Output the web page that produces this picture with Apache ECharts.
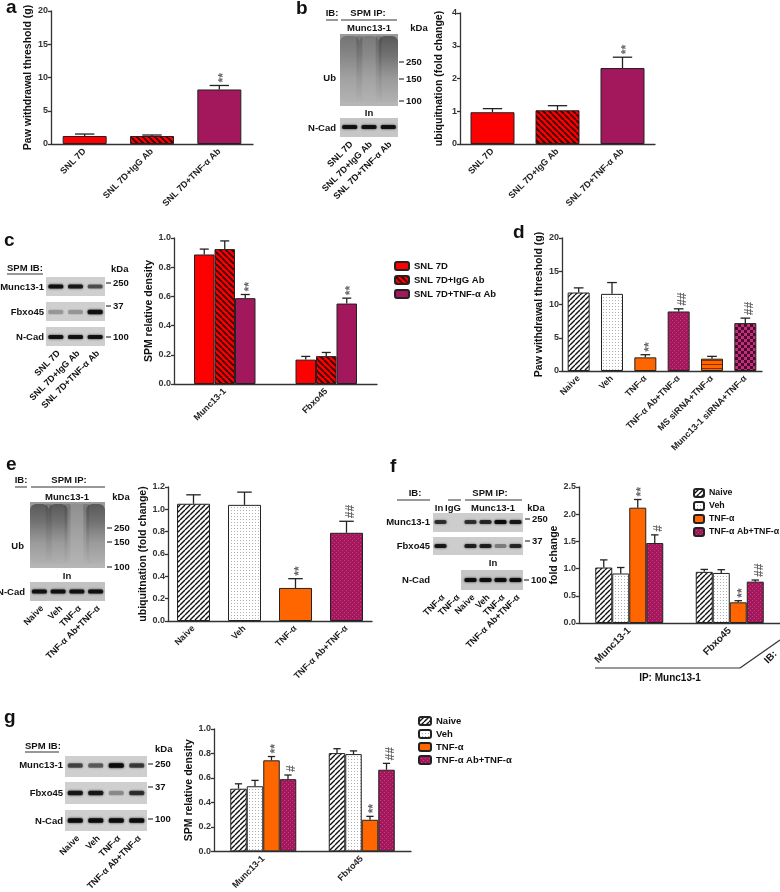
<!DOCTYPE html>
<html><head><meta charset="utf-8">
<script src="https://cdn.jsdelivr.net/npm/echarts@6/dist/echarts.min.js"></script>
<style>html,body{margin:0;padding:0;background:#fff}#c{width:780px;height:892px}</style>
</head><body><div id="c"></div><script>
// ---------------- DATA ----------------
const aCats = ['SNL 7D', 'SNL 7D+IgG Ab', 'SNL 7D+TNF-α Ab'];
const aMean = [1.2, 1.2, 8.2];
const aErr = [0.3, 0.15, 0.6];
const aMarks = ['', '', '**'];

const bCats = ['SNL 7D', 'SNL 7D+IgG Ab', 'SNL 7D+TNF-α Ab'];
const bMean = [0.97, 1.03, 2.32];
const bErr = [0.11, 0.14, 0.33];
const bMarks = ['', '', '**'];

const cCats = ['Munc13-1', 'Fbxo45'];
const cNames = ['SNL 7D', 'SNL 7D+IgG Ab', 'SNL 7D+TNF-α Ab'];
const cSNL = [0.887, 0.167], cSNLErr = [0.037, 0.022];
const cIgG = [0.924, 0.191], cIgGErr = [0.056, 0.025];
const cTNFAb = [0.588, 0.551], cTNFAbErr = [0.025, 0.037];
const cMarks = [['', ''], ['', ''], ['**', '**']];

const dCats = ['Naive', 'Veh', 'TNF-α', 'TNF-α Ab+TNF-α', 'MS siRNA+TNF-α', 'Munc13-1 siRNA+TNF-α'];
const dMean = [11.8, 11.6, 2.05, 8.95, 1.85, 7.2];
const dErr = [0.7, 1.7, 0.4, 0.4, 0.35, 0.75];
const dMarks = ['', '', '**', '##', '', '##'];

const eCats = ['Naive', 'Veh', 'TNF-α', 'TNF-α Ab+TNF-α'];
const eMean = [1.05, 1.04, 0.296, 0.79];
const eErr = [0.08, 0.114, 0.083, 0.103];
const eMarks = ['', '', '**', '##'];

const fgNames = ['Naive', 'Veh', 'TNF-α', 'TNF-α Ab+TNF-α'];
const fCats = ['Munc13-1', 'Fbxo45'];
const fNaive = [1.02, 0.94], fNaiveErr = [0.14, 0.045];
const fVeh = [0.91, 0.92], fVehErr = [0.11, 0.06];
const fTNF = [2.12, 0.38], fTNFErr = [0.15, 0.03];
const fTNFAb = [1.47, 0.76], fTNFAbErr = [0.15, 0.03];
const fMarks = [['', ''], ['', ''], ['**', '**'], ['#', '##']];

const gCats = ['Munc13-1', 'Fbxo45'];
const gNaive = [0.512, 0.803], gNaiveErr = [0.04, 0.036];
const gVeh = [0.532, 0.795], gVehErr = [0.048, 0.026];
const gTNF = [0.744, 0.258], gTNFErr = [0.031, 0.028];
const gTNFAb = [0.59, 0.667], gTNFAbErr = [0.034, 0.052];
const gMarks = [['', ''], ['', ''], ['**', '**'], ['#', '##']];

// blot lane labels and band intensities
const lanesB = ['SNL 7D', 'SNL 7D+IgG Ab', 'SNL 7D+TNF-α Ab'];
const lanesC = ['SNL 7D', 'SNL 7D+IgG Ab', 'SNL 7D+TNF-α Ab'];
const lanesE = ['Naive', 'Veh', 'TNF-α', 'TNF-α Ab+TNF-α'];
const lanesF = ['TNF-α', 'TNF-α', 'Naive', 'Veh', 'TNF-α', 'TNF-α Ab+TNF-α'];
const lanesG = ['Naive', 'Veh', 'TNF-α', 'TNF-α Ab+TNF-α'];
const bUb = [0.32, 0.28, 0.55], bNCad = [0.9, 0.9, 0.9];
const cMunc = [0.9, 0.85, 0.55], cFbxo = [0.25, 0.25, 0.9], cNCad = [0.9, 0.9, 0.9];
const eUb = [0.55, 0.55, 0.1, 0.55], eNCad = [0.9, 0.9, 0.9, 0.9];
const fMunc = [0.7, 0, 0.7, 0.75, 0.95, 0.85], fFbxo = [0.85, 0, 0.8, 0.8, 0.35, 0.75], fNCad = [0.95, 0.95, 0.95, 0.95];
const gMunc = [0.6, 0.5, 1.0, 0.65], gFbxo = [0.85, 0.85, 0.3, 0.7], gNCad = [0.95, 0.95, 0.95, 0.95];

// ---------------- STYLES ----------------
const FF = '"Liberation Sans", Arial, sans-serif';
function pat(size, draw) {
  const cv = document.createElement('canvas'); cv.width = cv.height = size;
  const g = cv.getContext('2d'); draw(g, size); return { image: cv, repeat: 'repeat' };
}
function diag(g, s, dir, col, lw) {
  g.strokeStyle = col; g.lineWidth = lw; g.beginPath();
  for (let k = -1; k <= 1; k++) {
    if (dir > 0) { g.moveTo(k * s, s); g.lineTo(k * s + s, 0); }
    else { g.moveTo(k * s, 0); g.lineTo(k * s + s, s); }
  }
  g.stroke();
}
const RED = '#ff0000';
const MAG = '#a3175d';
const ORG = '#ff6600';
const redHatch = pat(6, (g, s) => { g.fillStyle = RED; g.fillRect(0, 0, s, s); diag(g, s, -1, '#4a0000', 2); });
const naiveHatch = pat(5, (g, s) => { g.fillStyle = '#fff'; g.fillRect(0, 0, s, s); diag(g, s, 1, '#111', 1.4); });
const vehDots = pat(3, (g, s) => { g.fillStyle = '#fff'; g.fillRect(0, 0, s, s); g.fillStyle = '#b0b0b0'; g.fillRect(0, 0, 1, 1); });
const magDots = pat(4, (g, s) => { g.fillStyle = MAG; g.fillRect(0, 0, s, s); g.fillStyle = '#c9407f'; g.fillRect(0, 0, 1, 1); g.fillRect(2, 2, 1, 1); });
const orgLines = pat(4, (g, s) => { g.fillStyle = ORG; g.fillRect(0, 0, s, s); g.fillStyle = '#8a3000'; g.fillRect(0, 0, s, 1); });
const magCheck = pat(6, (g, s) => { g.fillStyle = '#c0307a'; g.fillRect(0, 0, s, s); g.fillStyle = '#4c0a2e'; g.fillRect(0, 0, 3, 3); g.fillRect(3, 3, 3, 3); });

const snlStyles = [RED, redHatch, MAG];
const dStyles = [naiveHatch, vehDots, ORG, magDots, orgLines, magCheck];
const fgStyles = [naiveHatch, vehDots, ORG, magDots];
const BORDER = '#222';

// ---------------- HELPERS ----------------
const grids = [
  { left: 51, top: 11, width: 202, height: 133 },
  { left: 460, top: 13, width: 195, height: 131 },
  { left: 174, top: 238, width: 203, height: 146 },
  { left: 562, top: 238, width: 200, height: 133 },
  { left: 168, top: 487, width: 204, height: 134 },
  { left: 579, top: 487, width: 201, height: 136 },
  { left: 214, top: 729, width: 197, height: 140 }
];
function yAx(gi, max, interval, name, gap, dec) {
  return {
    type: 'value', gridIndex: gi, min: 0, max: max, interval: interval, name: name,
    nameLocation: 'middle', nameGap: gap,
    nameTextStyle: { fontFamily: FF, fontWeight: 'bold', fontSize: 10.5, color: '#111' },
    axisLine: { show: true, lineStyle: { color: '#333', width: 1.3 } },
    axisTick: { show: true, length: 3, lineStyle: { color: '#333', width: 1.3 } },
    splitLine: { show: false },
    axisLabel: { fontFamily: FF, fontWeight: 'bold', fontSize: 9, color: '#333', margin: 3, formatter: v => v.toFixed(dec) }
  };
}
function xAx(gi, cats, fs) {
  return {
    type: 'category', gridIndex: gi, data: cats,
    axisLine: { lineStyle: { color: '#333', width: 1.3 } }, axisTick: { show: false },
    axisLabel: { rotate: 45, interval: 0, fontFamily: FF, fontWeight: 'bold', fontSize: fs || 9, color: '#222', margin: 6 }
  };
}
function errSeries(gi, means, errs, marks, offset, bw) {
  return {
    type: 'custom', xAxisIndex: gi, yAxisIndex: gi, silent: true, z: 6,
    data: means.map((m, i) => [i, m, errs[i]]),
    renderItem: (params, api) => {
      const i = api.value(0), m = api.value(1), e = api.value(2);
      const mk = marks[params.dataIndex] || '';
      const p0 = api.coord([i, m]), p1 = api.coord([i, m + e]);
      const x = p0[0] + offset, cw = bw * 0.22;
      const ch = [
        { type: 'line', shape: { x1: x, y1: p0[1], x2: x, y2: p1[1] }, style: { stroke: '#222', lineWidth: 1.3 } },
        { type: 'line', shape: { x1: x - cw, y1: p1[1], x2: x + cw, y2: p1[1] }, style: { stroke: '#222', lineWidth: 1.3 } }
      ];
      if (mk) ch.push({ type: 'text', x: x + 4, y: p1[1] - 3, rotation: Math.PI / 2,
        style: { text: mk, fill: '#666', fontSize: 12, fontWeight: 'bold', fontFamily: FF, align: 'left', verticalAlign: 'middle' } });
      return { type: 'group', children: ch };
    }
  };
}
function singleBars(gi, means, styles, bw) {
  return { type: 'bar', xAxisIndex: gi, yAxisIndex: gi, barWidth: bw, z: 2,
    data: means.map((v, i) => ({ value: v, itemStyle: { color: styles[i], borderColor: BORDER, borderWidth: 1 } })) };
}
function groupBars(gi, names, valsList, errList, marksList, styles, bw) {
  const out = [], n = names.length;
  names.forEach((nm, k) => {
    out.push({ type: 'bar', name: nm, xAxisIndex: gi, yAxisIndex: gi, barWidth: bw, barGap: '0%', z: 2,
      itemStyle: { color: styles[k], borderColor: BORDER, borderWidth: 1 }, data: valsList[k] });
    out.push(errSeries(gi, valsList[k], errList[k], marksList[k], (k - (n - 1) / 2) * bw, bw));
  });
  return out;
}

// ---------------- GRAPHICS (labels, blots) ----------------
const G = [];
function T(x, y, text, o) {
  o = o || {};
  G.push({ type: 'text', x: x, y: y, rotation: o.r || 0, z: 100,
    style: { text: text, fill: o.c || '#111', fontSize: o.s || 9.5, fontWeight: o.w || 'bold', fontFamily: FF, align: o.a || 'left', verticalAlign: o.v || 'middle' } });
}
function L(x1, y1, x2, y2, w, c) { G.push({ type: 'line', z: 100, shape: { x1, y1, x2, y2 }, style: { stroke: c || '#333', lineWidth: w || 1 } }); }
function R(x, y, w, h, fill, extra) { G.push({ type: 'rect', z: (extra && extra.z) || 90, shape: { x, y, width: w, height: h, r: (extra && extra.r) || 0 }, style: Object.assign({ fill: fill }, (extra && extra.style) || {}) }); }
function bands(centers, cy, ints, bw, bh) {
  centers.forEach((cx, i) => {
    if (ints[i] <= 0) return;
    const col = 'rgba(10,10,10,' + ints[i] + ')';
    R(cx - bw / 2, cy - bh / 2, bw, bh, col, { r: 1.5, z: 92, style: { shadowBlur: 2.5, shadowColor: col } });
  });
}
function lanesOf(x, w, n) { const lw = w / n; return Array.from({ length: n }, (_, i) => x + lw * (i + 0.5)); }
function ubBlot(x, y, w, h, centers, ints) {
  R(x, y, w, h, { type: 'linear', x: 0, y: 0, x2: 0, y2: 1, colorStops: [
    { offset: 0, color: '#9a9a9a' }, { offset: 0.5, color: '#a8a8a8' }, { offset: 1, color: '#b6b6b6' }] });
  const lw = w / centers.length;
  centers.forEach((cx, i) => {
    const a = ints[i];
    G.push({ type: 'rect', z: 91, shape: { x: cx - lw * 0.5, y: y + 2, width: lw, height: h - 6, r: 6 },
      style: { fill: { type: 'linear', x: 0, y: 0, x2: 0, y2: 1, colorStops: [
        { offset: 0, color: 'rgba(35,35,35,' + a + ')' },
        { offset: 0.3, color: 'rgba(45,45,45,' + (a * 0.75) + ')' },
        { offset: 0.65, color: 'rgba(70,70,70,' + (a * 0.3) + ')' },
        { offset: 1, color: 'rgba(90,90,90,' + (a * 0.08) + ')' }] } },
      clipPath: undefined });
  });
  // soften lane separations
  centers.slice(1).forEach((cx, i) => {
    const sx = cx - lw / 2;
    R(sx - 3, y + 2, 6, h - 6, { type: 'linear', x: 0, y: 0, x2: 0, y2: 1, colorStops: [
      { offset: 0, color: 'rgba(60,60,60,0.35)' }, { offset: 1, color: 'rgba(120,120,120,0.05)' }] }, { z: 92 });
  });
}
function laneLabels(centers, bottom, labels, dx) {
  centers.forEach((cx, i) => T(cx + (dx || 2), bottom + 6, labels[i], { a: 'right', r: Math.PI / 4, s: 9 }));
}
function marker(x, y, t) { L(x, y, x + 5, y, 1.2); T(x + 7, y, t); }

// panel letters
T(6, 8, 'a', { s: 19 }); T(296, 9, 'b', { s: 19 }); T(4, 241, 'c', { s: 19 });
T(513, 233, 'd', { s: 19 }); T(6, 465, 'e', { s: 19 }); T(390, 467, 'f', { s: 19 }); T(4, 718, 'g', { s: 19 });

// panel b blot
T(332, 13, 'IB:', { a: 'center' }); L(326, 20, 338, 20, 1);
T(368, 13, 'SPM IP:', { a: 'center' }); L(341, 20, 397, 20, 1);
T(369, 28, 'Munc13-1', { a: 'center' }); T(419, 28, 'kDa', { a: 'center' });
const lB = lanesOf(340, 58, 3);
ubBlot(340, 34, 58, 72, lB, bUb);
T(336, 78, 'Ub', { a: 'right' });
marker(399, 62, '250'); marker(399, 79, '150'); marker(399, 101, '100');
T(369, 113, 'In', { a: 'center' });
R(340, 118, 58, 19, '#c6c6c6');
bands(lB, 127, bNCad, 15, 4);
T(336, 128, 'N-Cad', { a: 'right' });
laneLabels(lB, 137, lanesB, 0);

// panel c blot
T(7, 268, 'SPM IB:'); L(7, 274, 43, 274, 1);
T(111, 269, 'kDa');
const lC = lanesOf(46, 59, 3);
R(46, 277, 59, 19, '#cfcfcf'); bands(lC, 286.5, cMunc, 15, 4);
R(46, 302, 59, 19, '#cfcfcf'); bands(lC, 312, cFbxo, 15, 4.5);
R(46, 327, 59, 19, '#cfcfcf'); bands(lC, 337, cNCad, 15, 4);
T(44, 287, 'Munc13-1', { a: 'right' }); T(44, 312, 'Fbxo45', { a: 'right' }); T(44, 337, 'N-Cad', { a: 'right' });
marker(106, 283, '250'); marker(106, 306, '37'); marker(106, 337, '100');
laneLabels(lC, 346, lanesC, 3);

// panel e blot
T(21, 480, 'IB:', { a: 'center' }); L(15, 487, 27, 487, 1);
T(69, 480, 'SPM IP:', { a: 'center' }); L(31, 487, 105, 487, 1);
T(67, 497, 'Munc13-1', { a: 'center' }); T(121, 497, 'kDa', { a: 'center' });
const lE = lanesOf(30, 75, 4);
ubBlot(30, 502, 75, 66, lE, eUb);
T(24, 546, 'Ub', { a: 'right' });
marker(107, 528, '250'); marker(107, 542, '150'); marker(107, 567, '100');
T(67, 576, 'In', { a: 'center' });
R(30, 582, 75, 19, '#c2c2c2'); bands(lE, 591.5, eNCad, 15, 4);
T(25, 592, 'N-Cad', { a: 'right' });
laneLabels(lE, 601, lanesE, 3);

// panel f blot
T(415, 493, 'IB:', { a: 'center' }); L(397, 500, 430, 500, 1);
T(490, 493, 'SPM IP:', { a: 'center' }); L(465, 500, 522, 500, 1); L(448, 500, 461, 500, 1);
T(439, 508, 'In', { a: 'center' }); T(453, 508, 'IgG', { a: 'center' }); T(493, 508, 'Munc13-1', { a: 'center' }); T(536, 508, 'kDa', { a: 'center' });
const lF = lanesOf(433, 90, 6);
R(433, 513, 90, 19, '#cdcdcd'); bands(lF, 522, fMunc, 12, 4);
R(433, 537, 90, 18, '#cdcdcd'); bands(lF, 546, fFbxo, 12, 4);
T(430, 522, 'Munc13-1', { a: 'right' }); T(430, 546, 'Fbxo45', { a: 'right' });
T(493, 563, 'In', { a: 'center' });
R(461, 570, 62, 20, '#c6c6c6'); bands(lF.slice(2), 580, fNCad, 12, 4);
T(430, 580, 'N-Cad', { a: 'right' });
marker(525, 519, '250'); marker(525, 541, '37'); marker(524, 580, '100');
laneLabels(lF, 590, lanesF, 3);
// IP / IB annotation under f chart
L(595, 668, 740, 668, 1.2); L(740, 668, 780, 640, 1.2);
T(670, 678, 'IP: Munc13-1', { a: 'center', s: 10 });
T(766, 662, 'IB:', { r: Math.PI / 4, s: 10 });

// panel g blot
T(25, 746, 'SPM IB:'); L(25, 752, 59, 752, 1);
T(155, 749, 'kDa');
const lG = lanesOf(65, 82, 4);
R(65, 756, 82, 21, '#cfcfcf'); bands(lG, 765.5, gMunc, 15, 4.5);
R(65, 782, 82, 22, '#cfcfcf'); bands(lG, 793, gFbxo, 15, 4.5);
R(65, 810, 82, 21, '#cfcfcf'); bands(lG, 820.5, gNCad, 15, 4.5);
T(63, 765, 'Munc13-1', { a: 'right' }); T(63, 793, 'Fbxo45', { a: 'right' }); T(63, 821, 'N-Cad', { a: 'right' });
marker(148, 764, '250'); marker(148, 787, '37'); marker(148, 819, '100');
laneLabels(lG, 831, lanesG, 3);

// ---------------- OPTION ----------------
const series = [];
series.push(singleBars(0, aMean, snlStyles, 44), errSeries(0, aMean, aErr, aMarks, 0, 44));
series.push(singleBars(1, bMean, snlStyles, 44), errSeries(1, bMean, bErr, bMarks, 0, 44));
series.push(...groupBars(2, cNames, [cSNL, cIgG, cTNFAb], [cSNLErr, cIgGErr, cTNFAbErr], cMarks, snlStyles, 20.5));
series.push(singleBars(3, dMean, dStyles, 22), errSeries(3, dMean, dErr, dMarks, 0, 22));
series.push(singleBars(4, eMean, dStyles.slice(0, 4), 33), errSeries(4, eMean, eErr, eMarks, 0, 33));
series.push(...groupBars(5, fgNames, [fNaive, fVeh, fTNF, fTNFAb], [fNaiveErr, fVehErr, fTNFErr, fTNFAbErr], fMarks, fgStyles, 17));
series.push(...groupBars(6, fgNames, [gNaive, gVeh, gTNF, gTNFAb], [gNaiveErr, gVehErr, gTNFErr, gTNFAbErr], gMarks, fgStyles, 16.5));

const legTxt = { fontFamily: FF, fontWeight: 'bold', fontSize: 9.5, color: '#111' };
const option = {
  animation: false,
  backgroundColor: '#fff',
  grid: grids,
  xAxis: [xAx(0, aCats), xAx(1, bCats), xAx(2, cCats), xAx(3, dCats), xAx(4, eCats), xAx(5, fCats, 10), xAx(6, gCats)],
  yAxis: [
    yAx(0, 20, 5, 'Paw withdrawal threshold (g)', 16, 0),
    yAx(1, 4, 1, 'ubiquitnation (fold change)', 15, 0),
    yAx(2, 1, 0.2, 'SPM relative density', 13, 1),
    yAx(3, 20, 5, 'Paw withdrawal threshold (g)', 16, 0),
    yAx(4, 1.2, 0.2, 'ubiquitnation (fold change)', 19, 1),
    yAx(5, 2.5, 0.5, 'fold change', 14, 1),
    yAx(6, 1, 0.2, 'SPM relative density', 12, 1)
  ],
  legend: [
    { left: 389, top: 256, orient: 'vertical', itemWidth: 14, itemHeight: 8, itemGap: 4, selectedMode: false, textStyle: legTxt, data: cNames },
    { left: 688, top: 483, orient: 'vertical', itemWidth: 10, itemHeight: 8, itemGap: 3, itemStyle: {}, selectedMode: false, textStyle: Object.assign({}, legTxt, { fontSize: 8.8 }), data: fgNames },
    { left: 413, top: 711, orient: 'vertical', itemWidth: 12, itemHeight: 8, itemGap: 3, selectedMode: false, textStyle: legTxt, data: fgNames }
  ],
  graphic: G,
  series: series
};
const chart = echarts.init(document.getElementById('c'), null, { renderer: 'canvas' });
chart.setOption(option);
</script></body></html>
